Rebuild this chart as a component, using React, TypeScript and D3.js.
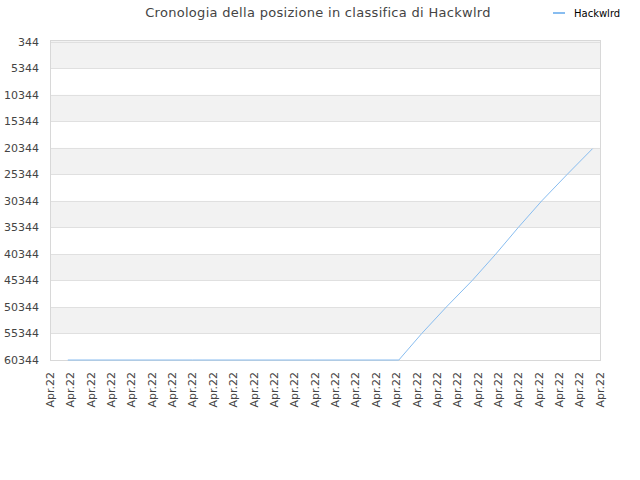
import React, { useEffect, useRef } from 'react';
import * as d3 from 'd3';

// rank history of Hackwlrd (lower value = better rank)
const rankDates = [
    '2022-04-01 21:00',
    '2022-04-08 00:00',
    '2022-04-14 00:00',
    '2022-04-18 03:00',
    '2022-04-19 06:00',
    '2022-04-20 11:00',
    '2022-04-21 17:30',
    '2022-04-22 21:20',
    '2022-04-23 23:45',
    '2022-04-25 03:20',
    '2022-04-26 09:20',
    '2022-04-27 15:10',
];
const rankValues = [
    60344, 60344, 60344, 60344, 55344, 50344, 45344, 40344, 35344, 30344,
    25344, 20500,
];

const yTicks = [
    344, 5344, 10344, 15344, 20344, 25344, 30344, 35344, 40344, 45344, 50344,
    55344, 60344,
];
const tickDays = d3.range(1, 29).map((d) => `2022-04-${String(d).padStart(2, '0')}`);

const title = 'Cronologia della posizione in classifica di Hackwlrd';
const seriesName = 'Hackwlrd';

const App: React.FC = () => {
    const ref = useRef<SVGSVGElement | null>(null);

    useEffect(() => {
        const width = 640;
        const height = 480;
        const margin = { top: 40, right: 40, bottom: 120, left: 50 };
        const font = '"DejaVu Sans", sans-serif';

        const svg = d3.select(ref.current).attr('width', width).attr('height', height);
        svg.selectAll('*').remove();

        const parse = d3.timeParse('%Y-%m-%d %H:%M');
        const parseDay = d3.timeParse('%Y-%m-%d');
        const data = rankDates.map((d, i) => ({ date: parse(d)!, value: rankValues[i] }));
        const ticks = tickDays.map((d) => parseDay(d)!);

        const x = d3
            .scaleTime()
            .domain([ticks[0], ticks[ticks.length - 1]])
            .range([margin.left, width - margin.right]);

        const y = d3
            .scaleLinear()
            .domain([0, 60344])
            .range([margin.top, height - margin.bottom]);

        // alternating bands
        const bandEdges = [0, ...yTicks.slice(1)];
        svg.append('g')
            .selectAll('rect')
            .data(bandEdges.slice(0, -1))
            .join('rect')
            .attr('x', margin.left)
            .attr('width', width - margin.left - margin.right)
            .attr('y', (d) => y(d))
            .attr('height', (d, i) => y(bandEdges[i + 1]) - y(d))
            .attr('fill', (d, i) => (i % 2 === 0 ? '#f2f2f2' : '#ffffff'));

        // grid lines
        svg.append('g')
            .selectAll('line')
            .data(yTicks)
            .join('line')
            .attr('x1', margin.left)
            .attr('x2', width - margin.right)
            .attr('y1', (d) => Math.round(y(d)) + 0.5)
            .attr('y2', (d) => Math.round(y(d)) + 0.5)
            .attr('stroke', '#e0e0e0')
            .attr('stroke-width', 1);

        // frame
        svg.append('rect')
            .attr('x', margin.left + 0.5)
            .attr('y', margin.top + 0.5)
            .attr('width', width - margin.left - margin.right)
            .attr('height', height - margin.top - margin.bottom)
            .attr('fill', 'none')
            .attr('stroke', '#d8d8d8');

        // y labels
        svg.append('g')
            .selectAll('text')
            .data(yTicks)
            .join('text')
            .attr('x', margin.left - 11)
            .attr('y', (d) => y(d))
            .attr('dy', '0.35em')
            .attr('text-anchor', 'end')
            .style('font-family', font)
            .style('font-size', '11px')
            .attr('fill', '#444')
            .text((d) => d);

        // x labels
        const fmt = d3.timeFormat('%b.%y');
        svg.append('g')
            .selectAll('text')
            .data(ticks)
            .join('text')
            .attr('transform', (d) => `translate(${x(d)}, ${height - margin.bottom + 12}) rotate(-90)`)
            .attr('dy', '0.35em')
            .attr('text-anchor', 'end')
            .style('font-family', font)
            .style('font-size', '11px')
            .attr('fill', '#444')
            .text((d) => fmt(d));

        // line
        const line = d3
            .line<{ date: Date; value: number }>()
            .x((d) => x(d.date))
            .y((d) => y(d.value));
        svg.append('path')
            .datum(data)
            .attr('d', line)
            .attr('fill', 'none')
            .attr('stroke', '#88bdf0')
            .attr('stroke-width', 1);

        // title
        svg.append('text')
            .attr('x', 318)
            .attr('y', 12)
            .attr('dy', '0.35em')
            .attr('text-anchor', 'middle')
            .style('font-family', font)
            .style('font-size', '13px')
            .style('letter-spacing', '0.3px')
            .attr('fill', '#444')
            .text(title);

        // legend
        const legend = svg.append('g').attr('transform', 'translate(553, 13)');
        legend
            .append('line')
            .attr('x1', 0)
            .attr('x2', 12)
            .attr('stroke', '#88bdf0')
            .attr('stroke-width', 2);
        legend
            .append('text')
            .attr('x', 21)
            .attr('dy', '0.35em')
            .style('font-family', font)
            .style('font-size', '10px')
            .attr('fill', '#000')
            .text(seriesName);
    }, []);

    return <svg ref={ref} style={{ position: 'absolute', left: 0, top: 0 }}></svg>;
};

export default App;
